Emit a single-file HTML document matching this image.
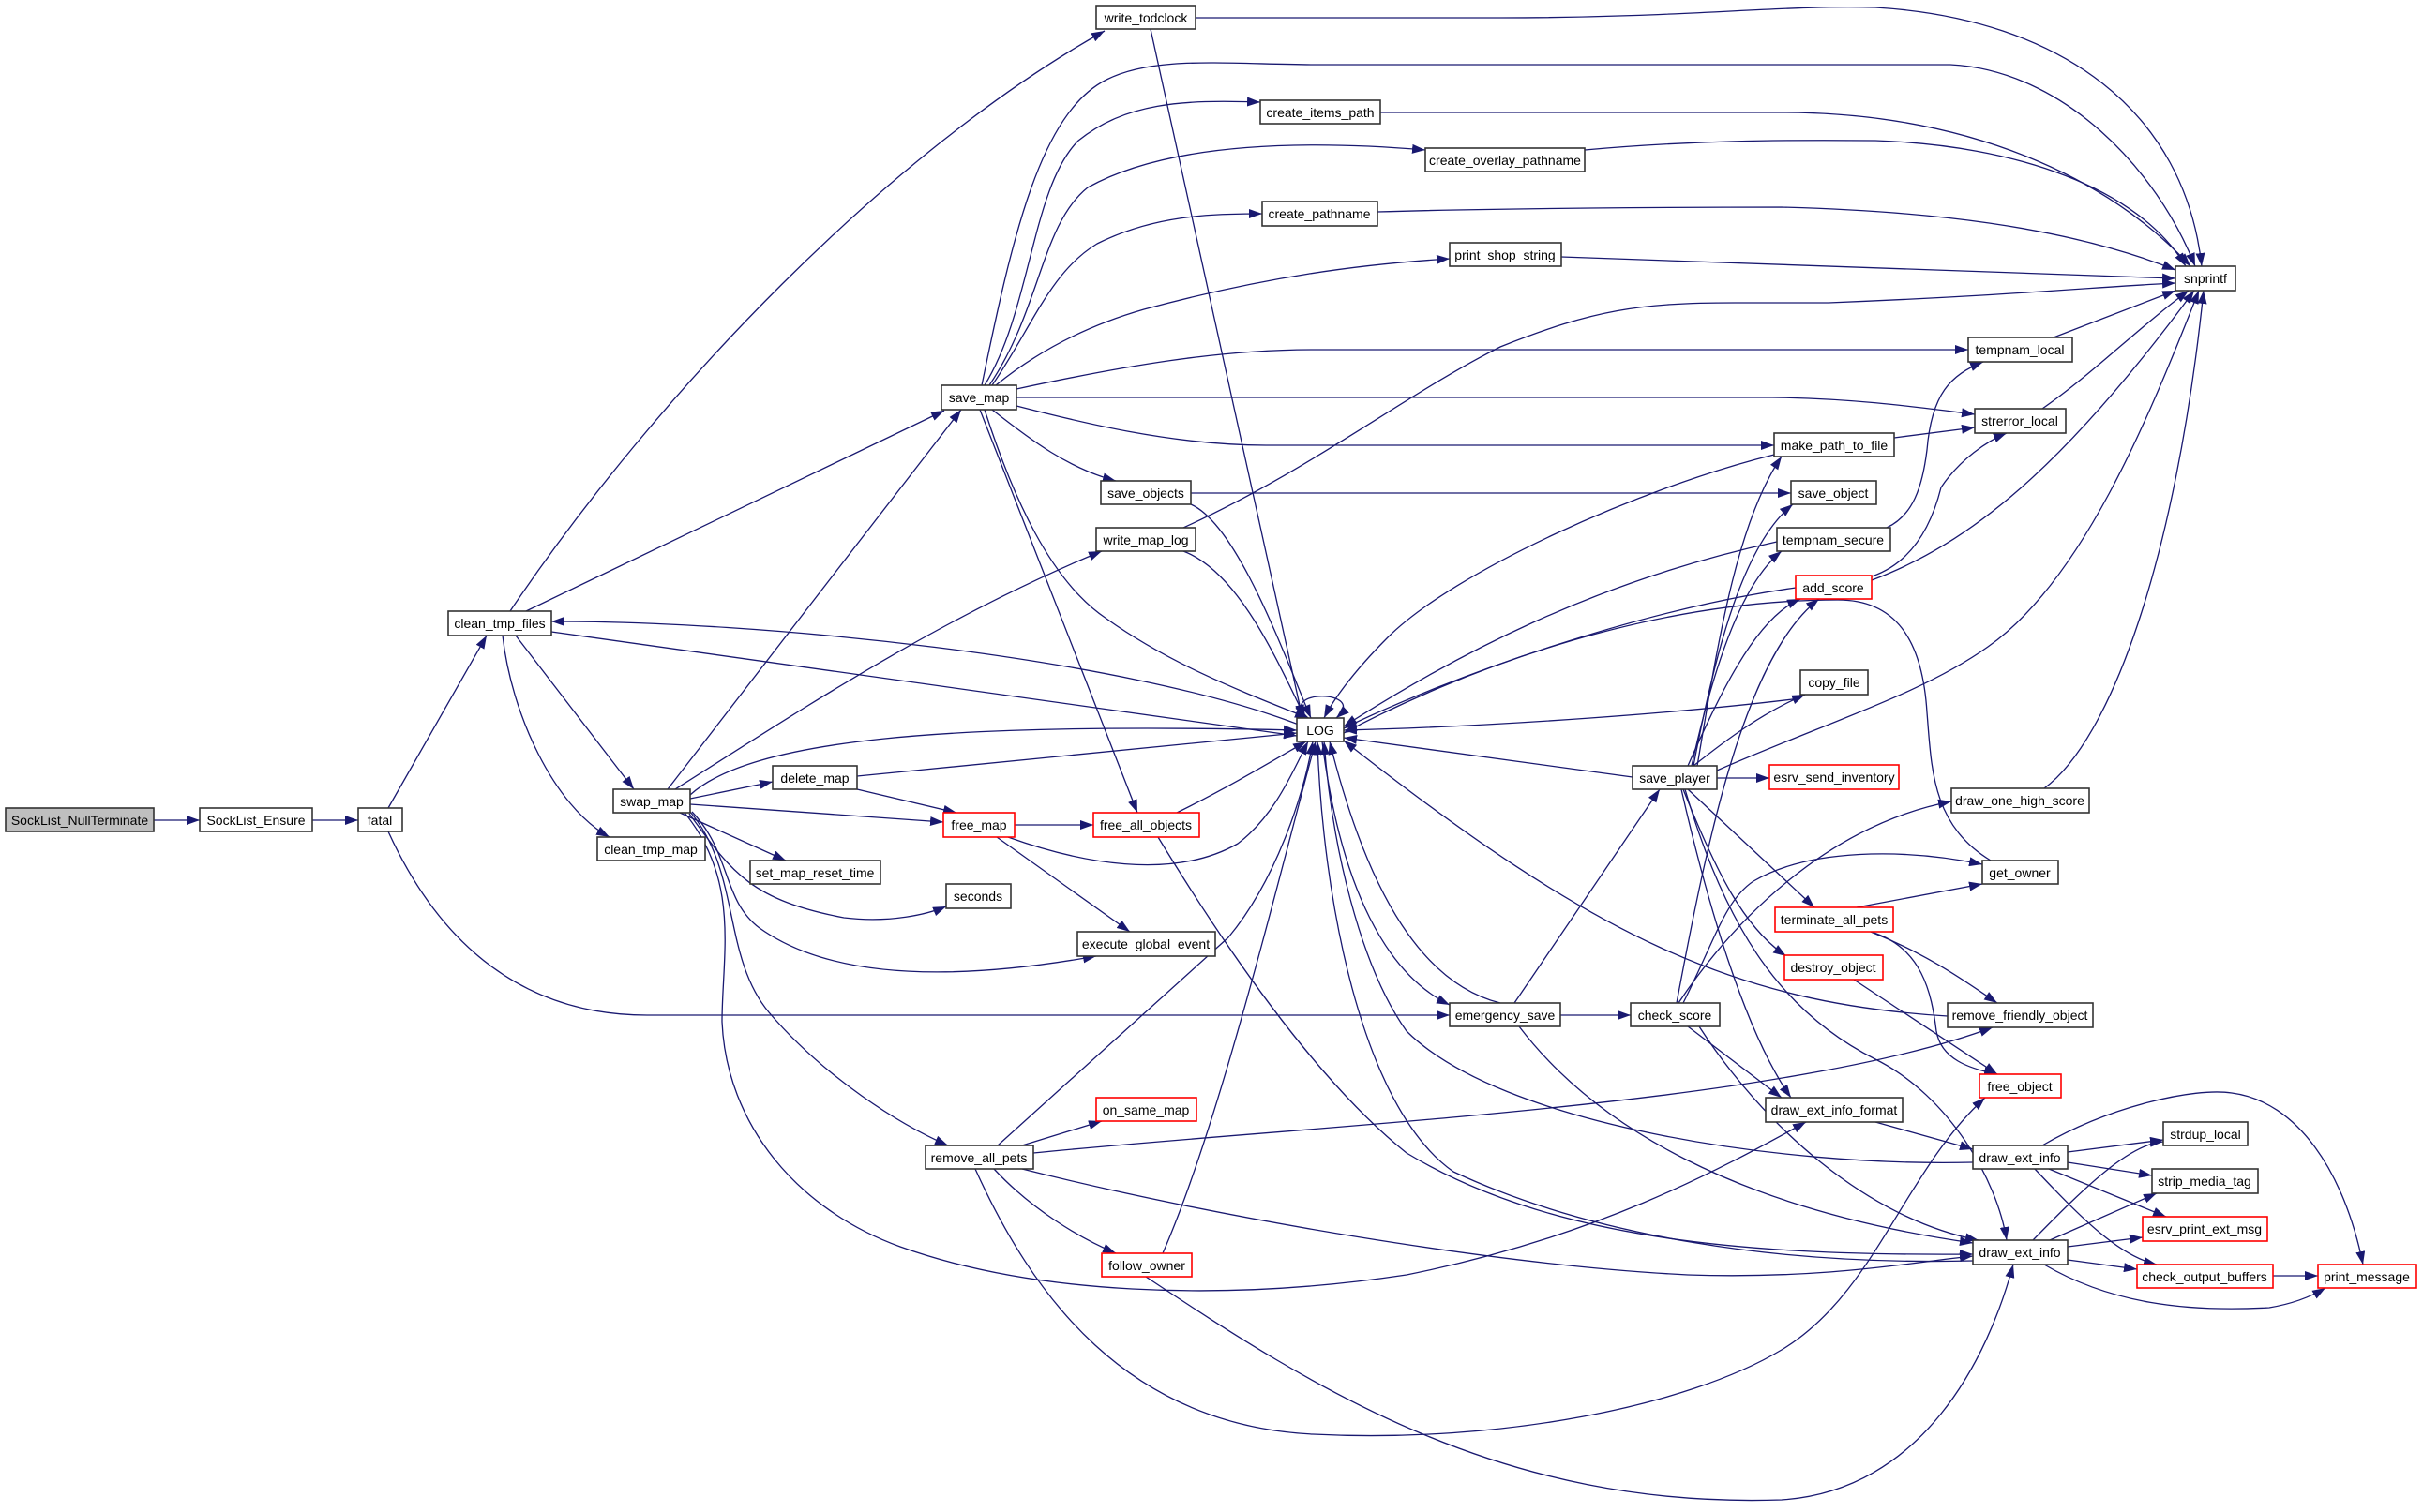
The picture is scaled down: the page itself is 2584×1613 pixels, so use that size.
<!DOCTYPE html>
<html><head><meta charset="utf-8"><style>
html,body{margin:0;padding:0;background:#fff;}
svg{display:block;}
text{font-family:"Liberation Sans",sans-serif;font-size:14px;fill:#000;text-anchor:middle;}
.e{fill:none;stroke:#191970;stroke-width:1.3;marker-end:url(#a);}
.n{fill:#fff;stroke:#333;stroke-width:1.6;}
.r{fill:#fff;stroke:#ff0000;stroke-width:1.6;}
</style></head><body>
<svg width="2584" height="1613" viewBox="0 0 2584 1613" xmlns="http://www.w3.org/2000/svg">
<defs><marker id="a" markerUnits="userSpaceOnUse" markerWidth="14" markerHeight="10" refX="14" refY="5" orient="auto"><path d="M0,0 L14,5 L0,10 z" fill="#191970"/></marker></defs>
<g>
<path class="e" d="M164,875 L213,875"/>
<path class="e" d="M333,875 L382,875"/>
<path class="e" d="M414,862 L519,678"/>
<path class="e" d="M414,887 C470,1010 560,1083 690,1083 L1546,1083"/>
<path class="e" d="M544,652 C700,420 950,160 1178,33"/>
<path class="e" d="M561,652 L1007,438"/>
<path class="e" d="M550,678 L676,842"/>
<path class="e" d="M536,678 C545,760 590,860 650,893"/>
<path class="e" d="M1390,775 C1200,700 800,662 588,663"/>
<path class="e" d="M588,674 L1383,785"/>
<path class="e" d="M712,842 L1025,437"/>
<path class="e" d="M720,842 C850,760 1000,660 1175,588"/>
<path class="e" d="M736,848 C800,790 1000,770 1383,779"/>
<path class="e" d="M736,852 L824,834"/>
<path class="e" d="M736,858 L1006,877"/>
<path class="e" d="M725,867 L838,918"/>
<path class="e" d="M735,868 C780,930 800,960 900,979 C950,985 990,975 1009,967"/>
<path class="e" d="M738,866 C780,910 770,960 810,990 C880,1040 1000,1050 1169,1020"/>
<path class="e" d="M736,866 C790,930 770,1020 820,1080 C880,1150 960,1200 1011,1222"/>
<path class="e" d="M730,867 C790,940 770,1020 770,1090 C775,1200 850,1290 960,1330 C1100,1380 1300,1390 1500,1360 C1700,1320 1830,1250 1926,1197"/>
<path class="e" d="M1395,766 C1360,735 1460,735 1425,766"/>
<path class="e" d="M1275,19 L1600,19 C1800,19 1900,5 2000,8 C2200,20 2330,120 2348,284"/>
<path class="e" d="M1227,31 L1389,766"/>
<path class="e" d="M1047,411 C1080,250 1110,120 1180,85 C1230,60 1300,68 1400,69 L2080,69 C2200,75 2300,180 2341,284"/>
<path class="e" d="M1050,411 C1100,330 1100,200 1150,150 C1200,110 1260,106 1344,109"/>
<path class="e" d="M1055,411 C1110,330 1110,240 1160,200 C1250,150 1400,150 1520,160"/>
<path class="e" d="M1058,411 C1100,350 1120,290 1170,260 C1230,230 1290,228 1346,228"/>
<path class="e" d="M1062,411 C1100,380 1150,350 1220,330 C1350,295 1450,282 1546,276"/>
<path class="e" d="M1084,415 C1200,390 1300,373 1400,373 L2099,373"/>
<path class="e" d="M1084,424 L1890,424 C1980,425 2050,435 2106,442"/>
<path class="e" d="M1084,433 C1150,450 1250,475 1350,475 L1892,475"/>
<path class="e" d="M1058,437 C1100,470 1140,500 1190,513"/>
<path class="e" d="M1050,437 C1080,530 1120,620 1180,660 C1250,710 1330,740 1395,766"/>
<path class="e" d="M1045,437 L1213,867"/>
<path class="e" d="M1472,120 L1900,120 C2100,120 2250,190 2336,284"/>
<path class="e" d="M1690,160 C1800,150 1900,149 2000,150 C2150,155 2280,200 2331,284"/>
<path class="e" d="M1469,226 C1600,222 1800,221 1900,221 C2050,225 2200,240 2320,288"/>
<path class="e" d="M1665,274 L2320,297"/>
<path class="e" d="M1262,563 C1400,500 1500,420 1600,370 C1700,330 1750,323 1850,323 L1950,323 C2150,315 2250,305 2320,302"/>
<path class="e" d="M2190,360 L2320,310"/>
<path class="e" d="M2178,436 C2230,400 2280,350 2334,310"/>
<path class="e" d="M1996,619 C2100,580 2200,500 2340,310"/>
<path class="e" d="M1996,615 C2040,600 2060,560 2070,520 C2090,490 2120,470 2140,462"/>
<path class="e" d="M2012,563 C2040,550 2050,520 2055,480 C2060,420 2080,400 2115,386"/>
<path class="e" d="M2020,467 L2106,456"/>
<path class="e" d="M1892,485 C1750,520 1550,610 1480,680 C1440,720 1420,750 1412,766"/>
<path class="e" d="M1270,526 L1910,526"/>
<path class="e" d="M1270,538 C1320,560 1370,700 1398,766"/>
<path class="e" d="M1262,588 C1320,610 1360,700 1392,766"/>
<path class="e" d="M1810,817 C1830,700 1850,560 1900,487"/>
<path class="e" d="M1806,817 C1830,690 1860,580 1912,538"/>
<path class="e" d="M1804,817 C1830,700 1860,620 1900,588"/>
<path class="e" d="M1800,817 C1830,750 1870,660 1920,639"/>
<path class="e" d="M1806,817 C1840,790 1880,760 1925,741"/>
<path class="e" d="M1831,822 C1950,770 2050,740 2120,690 C2220,620 2290,450 2345,310"/>
<path class="e" d="M2180,841 C2250,790 2320,600 2350,310"/>
<path class="e" d="M1741,829 L1433,787"/>
<path class="e" d="M1831,830 L1887,830"/>
<path class="e" d="M1800,842 L1935,968"/>
<path class="e" d="M1795,842 C1830,930 1860,990 1905,1020"/>
<path class="e" d="M1793,842 C1820,960 1860,1100 1910,1171"/>
<path class="e" d="M1797,842 C1840,990 1900,1080 2000,1130 C2080,1170 2130,1260 2140,1323"/>
<path class="e" d="M1895,578 C1700,620 1550,700 1433,775"/>
<path class="e" d="M1915,627 C1750,650 1550,720 1433,777"/>
<path class="e" d="M1920,745 C1800,760 1600,775 1433,779"/>
<path class="e" d="M2123,918 C2060,880 2060,820 2055,760 C2050,680 2020,640 1960,640 C1750,640 1550,720 1433,782"/>
<path class="e" d="M1980,968 L2114,943"/>
<path class="e" d="M1995,994 C2060,1020 2100,1050 2130,1070"/>
<path class="e" d="M1995,994 C2050,1010 2060,1060 2065,1100 C2070,1130 2100,1140 2130,1146"/>
<path class="e" d="M1977,1045 L2130,1146"/>
<path class="e" d="M2077,1084 C1850,1070 1700,1000 1433,790"/>
<path class="e" d="M1600,1070 C1520,1050 1460,960 1418,791"/>
<path class="e" d="M1410,791 C1430,950 1480,1040 1546,1072"/>
<path class="e" d="M1615,1070 L1770,842"/>
<path class="e" d="M1664,1083 L1739,1083"/>
<path class="e" d="M1620,1095 C1700,1200 1850,1290 2104,1326"/>
<path class="e" d="M1790,1070 C1850,980 1950,880 2081,855"/>
<path class="e" d="M1795,1070 C1830,1000 1840,960 1870,940 C1930,905 2030,905 2114,922"/>
<path class="e" d="M1788,1070 C1820,900 1860,700 1940,639"/>
<path class="e" d="M1800,1095 L1900,1171"/>
<path class="e" d="M1812,1095 C1880,1200 1990,1300 2110,1323"/>
<path class="e" d="M914,828 C1100,810 1300,790 1383,782"/>
<path class="e" d="M914,842 L1020,867"/>
<path class="e" d="M1082,880 L1166,880"/>
<path class="e" d="M1075,893 C1150,920 1250,940 1320,900 C1360,870 1380,820 1395,791"/>
<path class="e" d="M1063,893 L1205,994"/>
<path class="e" d="M1255,867 C1310,840 1360,810 1393,791"/>
<path class="e" d="M1235,893 C1300,1000 1400,1150 1500,1230 C1650,1320 1850,1340 2104,1338"/>
<path class="e" d="M1064,1222 L1310,1000 C1360,940 1390,850 1400,791"/>
<path class="e" d="M1090,1222 L1175,1196"/>
<path class="e" d="M1060,1247 C1100,1290 1150,1320 1190,1337"/>
<path class="e" d="M1102,1230 C1400,1200 1900,1180 2125,1096"/>
<path class="e" d="M1090,1247 C1300,1300 1600,1350 1800,1360 C1950,1365 2050,1345 2104,1340"/>
<path class="e" d="M1040,1247 C1100,1380 1200,1520 1400,1530 C1600,1540 1800,1500 1900,1440 C2000,1380 2030,1250 2117,1171"/>
<path class="e" d="M1240,1337 C1300,1200 1360,950 1403,791"/>
<path class="e" d="M1222,1362 C1400,1480 1600,1610 1900,1600 C2050,1590 2120,1450 2147,1349"/>
<path class="e" d="M2000,1197 L2104,1226"/>
<path class="e" d="M2205,1229 L2307,1216"/>
<path class="e" d="M2205,1240 L2295,1254"/>
<path class="e" d="M2185,1247 L2310,1298"/>
<path class="e" d="M2170,1247 C2220,1300 2260,1340 2300,1349"/>
<path class="e" d="M2178,1222 C2250,1180 2340,1160 2380,1166 C2450,1175 2500,1250 2520,1349"/>
<path class="e" d="M2104,1240 C1900,1245 1600,1200 1500,1100 C1450,1030 1420,900 1412,791"/>
<path class="e" d="M2168,1323 C2220,1270 2270,1220 2307,1218"/>
<path class="e" d="M2186,1323 L2300,1273"/>
<path class="e" d="M2205,1330 L2285,1320"/>
<path class="e" d="M2205,1344 L2279,1354"/>
<path class="e" d="M2180,1349 C2250,1390 2330,1400 2420,1395 C2450,1390 2470,1380 2480,1374"/>
<path class="e" d="M2104,1345 C1900,1350 1700,1320 1550,1250 C1450,1180 1410,950 1405,791"/>
<path class="e" d="M2424,1361 L2472,1361"/>
</g>
<g>
<rect x="6" y="862" width="158" height="25" fill="#bfbfbf" stroke="#333" stroke-width="1.6"/><text x="85" y="880">SockList_NullTerminate</text>
<rect class="n" x="213" y="862" width="120" height="25"/><text x="273" y="880">SockList_Ensure</text>
<rect class="n" x="382" y="862" width="47" height="25"/><text x="405" y="880">fatal</text>
<rect class="n" x="478" y="652" width="110" height="26"/><text x="533" y="670">clean_tmp_files</text>
<rect class="n" x="654" y="842" width="82" height="25"/><text x="695" y="860">swap_map</text>
<rect class="n" x="637" y="893" width="115" height="25"/><text x="694" y="911">clean_tmp_map</text>
<rect class="n" x="1004" y="411" width="80" height="26"/><text x="1044" y="429">save_map</text>
<rect class="n" x="1169" y="6" width="106" height="25"/><text x="1222" y="24">write_todclock</text>
<rect class="n" x="1344" y="107" width="128" height="25"/><text x="1408" y="125">create_items_path</text>
<rect class="n" x="1520" y="158" width="170" height="25"/><text x="1605" y="176">create_overlay_pathname</text>
<rect class="n" x="1346" y="215" width="123" height="26"/><text x="1407" y="233">create_pathname</text>
<rect class="n" x="1546" y="259" width="119" height="25"/><text x="1605" y="277">print_shop_string</text>
<rect class="n" x="2320" y="284" width="64" height="26"/><text x="2352" y="302">snprintf</text>
<rect class="n" x="2099" y="360" width="111" height="26"/><text x="2154" y="378">tempnam_local</text>
<rect class="n" x="2106" y="436" width="97" height="26"/><text x="2154" y="454">strerror_local</text>
<rect class="n" x="1892" y="462" width="128" height="25"/><text x="1956" y="480">make_path_to_file</text>
<rect class="n" x="1174" y="513" width="96" height="25"/><text x="1222" y="531">save_objects</text>
<rect class="n" x="1910" y="513" width="91" height="25"/><text x="1955" y="531">save_object</text>
<rect class="n" x="1169" y="563" width="106" height="25"/><text x="1222" y="581">write_map_log</text>
<rect class="n" x="1895" y="563" width="121" height="25"/><text x="1955" y="581">tempnam_secure</text>
<rect class="r" x="1915" y="614" width="81" height="25"/><text x="1955" y="632">add_score</text>
<rect class="n" x="1920" y="715" width="72" height="26"/><text x="1956" y="733">copy_file</text>
<rect class="n" x="1383" y="766" width="50" height="25"/><text x="1408" y="784">LOG</text>
<rect class="n" x="1741" y="817" width="90" height="25"/><text x="1786" y="835">save_player</text>
<rect class="r" x="1887" y="816" width="138" height="26"/><text x="1956" y="834">esrv_send_inventory</text>
<rect class="n" x="2081" y="841" width="147" height="26"/><text x="2154" y="859">draw_one_high_score</text>
<rect class="n" x="824" y="817" width="90" height="25"/><text x="869" y="835">delete_map</text>
<rect class="r" x="1006" y="867" width="76" height="26"/><text x="1044" y="885">free_map</text>
<rect class="r" x="1166" y="867" width="113" height="26"/><text x="1222" y="885">free_all_objects</text>
<rect class="n" x="800" y="918" width="139" height="25"/><text x="869" y="936">set_map_reset_time</text>
<rect class="n" x="1009" y="943" width="69" height="26"/><text x="1043" y="961">seconds</text>
<rect class="n" x="2114" y="918" width="81" height="25"/><text x="2154" y="936">get_owner</text>
<rect class="r" x="1893" y="968" width="126" height="26"/><text x="1956" y="986">terminate_all_pets</text>
<rect class="n" x="1149" y="994" width="147" height="26"/><text x="1222" y="1012">execute_global_event</text>
<rect class="r" x="1903" y="1019" width="105" height="26"/><text x="1955" y="1037">destroy_object</text>
<rect class="n" x="1546" y="1070" width="118" height="25"/><text x="1605" y="1088">emergency_save</text>
<rect class="n" x="1739" y="1070" width="95" height="25"/><text x="1786" y="1088">check_score</text>
<rect class="n" x="2077" y="1070" width="155" height="26"/><text x="2154" y="1088">remove_friendly_object</text>
<rect class="r" x="2111" y="1146" width="87" height="25"/><text x="2154" y="1164">free_object</text>
<rect class="r" x="1169" y="1171" width="107" height="25"/><text x="1222" y="1189">on_same_map</text>
<rect class="n" x="1883" y="1171" width="146" height="26"/><text x="1956" y="1189">draw_ext_info_format</text>
<rect class="n" x="2104" y="1222" width="101" height="25"/><text x="2154" y="1240">draw_ext_info</text>
<rect class="n" x="987" y="1222" width="115" height="25"/><text x="1044" y="1240">remove_all_pets</text>
<rect class="n" x="2307" y="1197" width="90" height="25"/><text x="2352" y="1215">strdup_local</text>
<rect class="n" x="2295" y="1247" width="113" height="26"/><text x="2351" y="1265">strip_media_tag</text>
<rect class="r" x="2285" y="1298" width="133" height="26"/><text x="2351" y="1316">esrv_print_ext_msg</text>
<rect class="n" x="2104" y="1323" width="101" height="26"/><text x="2154" y="1341">draw_ext_info</text>
<rect class="r" x="2279" y="1349" width="145" height="25"/><text x="2351" y="1367">check_output_buffers</text>
<rect class="r" x="1175" y="1337" width="96" height="25"/><text x="1223" y="1355">follow_owner</text>
<rect class="r" x="2472" y="1349" width="105" height="25"/><text x="2524" y="1367">print_message</text>
</g>
</svg>
</body></html>
